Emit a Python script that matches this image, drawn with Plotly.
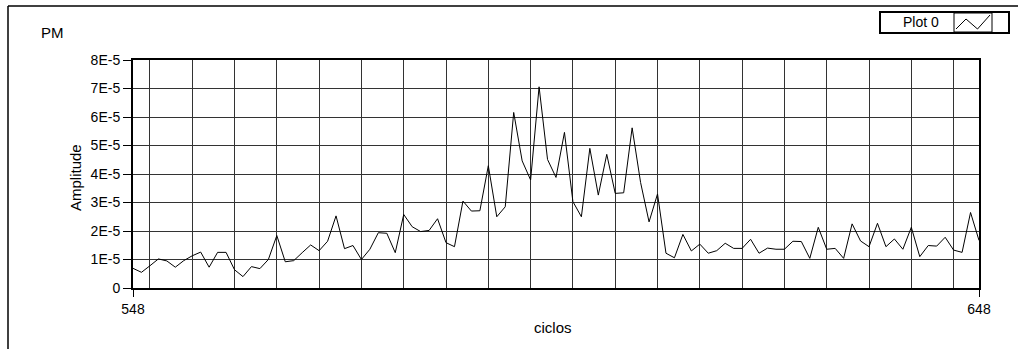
import plotly.graph_objects as go

# ---- data (values in units of 1E-5) ----
x_start = 548
amp_e5 = [
    0.69, 0.55, 0.78, 1.02, 0.95, 0.73, 0.96, 1.13, 1.26, 0.73,
    1.25, 1.25, 0.64, 0.40, 0.75, 0.68, 1.00, 1.84, 0.92, 0.96,
    1.24, 1.51, 1.31, 1.64, 2.53, 1.38, 1.49, 1.00, 1.36, 1.94,
    1.92, 1.24, 2.58, 2.15, 1.98, 2.02, 2.43, 1.59, 1.45, 3.05,
    2.70, 2.71, 4.29, 2.50, 2.85, 6.16, 4.46, 3.79, 7.06, 4.51,
    3.88, 5.46, 3.03, 2.50, 4.90, 3.26, 4.69, 3.32, 3.34, 5.62,
    3.70, 2.32, 3.30, 1.22, 1.06, 1.88, 1.30, 1.54, 1.22, 1.31,
    1.57, 1.39, 1.39, 1.71, 1.22, 1.40, 1.36, 1.36, 1.64, 1.63,
    1.04, 2.13, 1.36, 1.39, 1.04, 2.25, 1.65, 1.45, 2.27, 1.45,
    1.72, 1.36, 2.13, 1.10, 1.49, 1.47, 1.78, 1.33, 1.25, 2.65,
    1.67,
]
x_vals = [x_start + i for i in range(len(amp_e5))]
y_vals = [v * 1e-5 for v in amp_e5]

y_tickvals = [i * 1e-5 for i in range(9)]
y_ticktext = ["0", "1E-5", "2E-5", "3E-5", "4E-5", "5E-5", "6E-5", "7E-5", "8E-5"]
x_tickvals = [548, 648]
x_ticktext = ["548", "648"]

series_name = "Plot 0"
title_text = "PM"
x_title = "ciclos"
y_title = "Amplitude"

# ---- layout geometry (pixels) ----
W, H = 1018, 349
L, R, T, B = 133, 979, 60, 288
PW, PH = R - L, B - T


def px(xp):
    return (xp - L) / PW


def py(yp):
    return (B - yp) / PH


FONT = "Liberation Sans Narrow, Arial Narrow, Liberation Sans, Arial, sans-serif"

fig = go.Figure()
fig.add_trace(go.Scatter(
    x=x_vals, y=y_vals, mode="lines", name=series_name,
    line=dict(color="black", width=1), showlegend=False,
))

fig.update_layout(
    width=W, height=H,
    margin=dict(l=L, r=W - R, t=T, b=H - B, pad=0),
    paper_bgcolor="white", plot_bgcolor="white",
    font=dict(family=FONT, size=14, color="black"),
    xaxis=dict(
        range=[548, 648], tickmode="array", tickvals=x_tickvals, ticktext=x_ticktext,
        ticks="outside", ticklen=7, tickcolor="black", tickwidth=1,
        showgrid=False, zeroline=False,
        showline=True, mirror=True, linecolor="black", linewidth=2,
        minor=dict(tick0=550, dtick=5, showgrid=True, gridcolor="#333333",
                   gridwidth=1, ticks=""),
        tickfont=dict(size=14),
    ),
    yaxis=dict(
        range=[0, 8e-5], tickmode="array", tickvals=y_tickvals, ticktext=y_ticktext,
        ticks="outside", ticklen=8, tickcolor="black", tickwidth=1,
        showgrid=True, gridcolor="#333333", gridwidth=1, zeroline=False,
        showline=True, mirror=True, linecolor="black", linewidth=2,
        tickfont=dict(size=14),
    ),
)

annotations = [
    dict(text=title_text, x=px(39), y=py(33), xanchor="left", yanchor="middle",
         font=dict(size=15)),
    dict(text=y_title, x=px(75), y=py(178), textangle=-90, xanchor="center",
         yanchor="middle", font=dict(size=15)),
    dict(text=x_title, x=px(553), y=py(327), xanchor="center", yanchor="middle",
         font=dict(size=15)),
    dict(text=series_name, x=px(921), y=py(22), xanchor="center", yanchor="middle",
         font=dict(size=14)),
]
for a in annotations:
    a.update(xref="paper", yref="paper", showarrow=False)
fig.update_layout(annotations=annotations)

shapes = [
    # outer panel frame (top and left)
    dict(type="line", x0=px(8), y0=py(6), x1=px(1018), y1=py(6),
         line=dict(color="black", width=1.5)),
    dict(type="line", x0=px(8), y0=py(6), x1=px(8), y1=py(349),
         line=dict(color="black", width=1.5)),
    # legend box
    dict(type="rect", x0=px(880), y0=py(12), x1=px(1009), y1=py(33),
         line=dict(color="black", width=2), fillcolor="white"),
    dict(type="rect", x0=px(954), y0=py(13), x1=px(992), y1=py(32),
         line=dict(color="black", width=1), fillcolor="white"),
    dict(type="path",
         path=f"M {px(956)} {py(29)} L {px(966)} {py(19)} L {px(977.5)} {py(29)} L {px(990)} {py(15)}",
         line=dict(color="black", width=1)),
]
for s in shapes:
    s.update(xref="paper", yref="paper")
fig.update_layout(shapes=shapes)

fig.write_html("out.html")
